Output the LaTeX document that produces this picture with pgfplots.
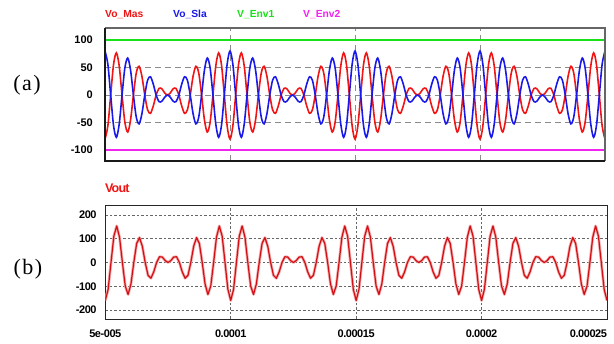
\documentclass[border=0pt]{standalone}
\usepackage{pgfplots}
\pgfplotsset{compat=1.18}
\usepackage{pgfplotstable}
\usepackage{fontspec}
\setmainfont{Liberation Serif}
\setsansfont{Liberation Sans}
\newfontfamily\tightsans[LetterSpace=-4]{Liberation Sans}
\newfontfamily\tightersans[LetterSpace=-7]{Liberation Sans}
\definecolor{cred}{RGB}{240,20,20}
\definecolor{cblue}{RGB}{25,25,235}
\definecolor{cgreen}{RGB}{25,225,25}
\definecolor{cmag}{RGB}{240,35,240}
\definecolor{vred}{RGB}{210,15,20}
\definecolor{vhalo}{RGB}{245,170,170}
\pgfplotstableread{
t mas sla out
50.000 -80.0 80.0 -160.0
51.136 -56.4 56.4 -112.8
52.273 0 0 0
53.409 55.3 -55.3 110.6
54.545 76.8 -76.8 153.6
55.682 53.0 -53.0 106.0
56.818 0 0 0
57.955 -49.6 49.6 -99.2
59.091 -67.3 67.3 -134.6
60.227 -45.3 45.3 -90.6
61.364 0 0 0
62.500 40.0 -40.0 80.0
63.636 52.4 -52.4 104.8
64.773 33.9 -33.9 67.8
65.909 0 0 0
67.045 -27.1 27.1 -54.2
68.182 -33.2 33.2 -66.4
69.318 -19.8 19.8 -39.6
70.455 0 0 0
71.591 12.0 -12.0 24.0
72.727 11.4 -11.4 22.8
73.864 4.0 -4.0 8.0
75.000 0 0 0
76.136 4.0 -4.0 8.0
77.273 11.4 -11.4 22.8
78.409 12.0 -12.0 24.0
79.545 0 0 0
80.682 -19.8 19.8 -39.6
81.818 -33.2 33.2 -66.4
82.955 -27.1 27.1 -54.2
84.091 0 0 0
85.227 33.9 -33.9 67.8
86.364 52.4 -52.4 104.8
87.500 40.0 -40.0 80.0
88.636 0 0 0
89.773 -45.3 45.3 -90.6
90.909 -67.3 67.3 -134.6
92.045 -49.6 49.6 -99.2
93.182 0 0 0
94.318 53.0 -53.0 106.0
95.455 76.8 -76.8 153.6
96.591 55.3 -55.3 110.6
97.727 0 0 0
98.864 -56.4 56.4 -112.8
100.000 -80.0 80.0 -160.0
101.136 -56.4 56.4 -112.8
102.273 0 0 0
103.409 55.3 -55.3 110.6
104.545 76.8 -76.8 153.6
105.682 53.0 -53.0 106.0
106.818 0 0 0
107.955 -49.6 49.6 -99.2
109.091 -67.3 67.3 -134.6
110.227 -45.3 45.3 -90.6
111.364 0 0 0
112.500 40.0 -40.0 80.0
113.636 52.4 -52.4 104.8
114.773 33.9 -33.9 67.8
115.909 0 0 0
117.045 -27.1 27.1 -54.2
118.182 -33.2 33.2 -66.4
119.318 -19.8 19.8 -39.6
120.455 0 0 0
121.591 12.0 -12.0 24.0
122.727 11.4 -11.4 22.8
123.864 4.0 -4.0 8.0
125.000 0 0 0
126.136 4.0 -4.0 8.0
127.273 11.4 -11.4 22.8
128.409 12.0 -12.0 24.0
129.545 0 0 0
130.682 -19.8 19.8 -39.6
131.818 -33.2 33.2 -66.4
132.955 -27.1 27.1 -54.2
134.091 0 0 0
135.227 33.9 -33.9 67.8
136.364 52.4 -52.4 104.8
137.500 40.0 -40.0 80.0
138.636 0 0 0
139.773 -45.3 45.3 -90.6
140.909 -67.3 67.3 -134.6
142.045 -49.6 49.6 -99.2
143.182 0 0 0
144.318 53.0 -53.0 106.0
145.455 76.8 -76.8 153.6
146.591 55.3 -55.3 110.6
147.727 0 0 0
148.864 -56.4 56.4 -112.8
150.000 -80.0 80.0 -160.0
151.136 -56.4 56.4 -112.8
152.273 0 0 0
153.409 55.3 -55.3 110.6
154.545 76.8 -76.8 153.6
155.682 53.0 -53.0 106.0
156.818 0 0 0
157.955 -49.6 49.6 -99.2
159.091 -67.3 67.3 -134.6
160.227 -45.3 45.3 -90.6
161.364 0 0 0
162.500 40.0 -40.0 80.0
163.636 52.4 -52.4 104.8
164.773 33.9 -33.9 67.8
165.909 0 0 0
167.045 -27.1 27.1 -54.2
168.182 -33.2 33.2 -66.4
169.318 -19.8 19.8 -39.6
170.455 0 0 0
171.591 12.0 -12.0 24.0
172.727 11.4 -11.4 22.8
173.864 4.0 -4.0 8.0
175.000 0 0 0
176.136 4.0 -4.0 8.0
177.273 11.4 -11.4 22.8
178.409 12.0 -12.0 24.0
179.545 0 0 0
180.682 -19.8 19.8 -39.6
181.818 -33.2 33.2 -66.4
182.955 -27.1 27.1 -54.2
184.091 0 0 0
185.227 33.9 -33.9 67.8
186.364 52.4 -52.4 104.8
187.500 40.0 -40.0 80.0
188.636 0 0 0
189.773 -45.3 45.3 -90.6
190.909 -67.3 67.3 -134.6
192.045 -49.6 49.6 -99.2
193.182 0 0 0
194.318 53.0 -53.0 106.0
195.455 76.8 -76.8 153.6
196.591 55.3 -55.3 110.6
197.727 0 0 0
198.864 -56.4 56.4 -112.8
200.000 -80.0 80.0 -160.0
201.136 -56.4 56.4 -112.8
202.273 0 0 0
203.409 55.3 -55.3 110.6
204.545 76.8 -76.8 153.6
205.682 53.0 -53.0 106.0
206.818 0 0 0
207.955 -49.6 49.6 -99.2
209.091 -67.3 67.3 -134.6
210.227 -45.3 45.3 -90.6
211.364 0 0 0
212.500 40.0 -40.0 80.0
213.636 52.4 -52.4 104.8
214.773 33.9 -33.9 67.8
215.909 0 0 0
217.045 -27.1 27.1 -54.2
218.182 -33.2 33.2 -66.4
219.318 -19.8 19.8 -39.6
220.455 0 0 0
221.591 12.0 -12.0 24.0
222.727 11.4 -11.4 22.8
223.864 4.0 -4.0 8.0
225.000 0 0 0
226.136 4.0 -4.0 8.0
227.273 11.4 -11.4 22.8
228.409 12.0 -12.0 24.0
229.545 0 0 0
230.682 -19.8 19.8 -39.6
231.818 -33.2 33.2 -66.4
232.955 -27.1 27.1 -54.2
234.091 0 0 0
235.227 33.9 -33.9 67.8
236.364 52.4 -52.4 104.8
237.500 40.0 -40.0 80.0
238.636 0 0 0
239.773 -45.3 45.3 -90.6
240.909 -67.3 67.3 -134.6
242.045 -49.6 49.6 -99.2
243.182 0 0 0
244.318 53.0 -53.0 106.0
245.455 76.8 -76.8 153.6
246.591 55.3 -55.3 110.6
247.727 0 0 0
248.864 -56.4 56.4 -112.8
250.000 -80.0 80.0 -160.0
}\wave
\begin{document}
\begin{tikzpicture}[x=1pt,y=1pt]
\path[use as bounding box] (0pt,0pt) rectangle (614pt,344pt);
% ---------- top panel (a)
\begin{axis}[
  at={(105pt,183pt)}, anchor=south west, scale only axis,
  width=500pt, height=133pt,
  xmin=50, xmax=250, ymin=-120, ymax=122,
  xtick={100,150,200}, xticklabels={},
  ytick={-100,-50,0,50,100},
  axis line style={draw=none}, major tick length=0pt,
  grid=major,
  major grid style={draw=black!45, dash pattern=on 6pt off 4pt, line width=0.9pt},
  /pgf/number format/assume math mode=true,
  yticklabel style={font=\sffamily\bfseries\fontsize{11}{11}\selectfont, inner sep=0pt, anchor=east, xshift=-12pt},
]
\addplot[cred, line width=1.6pt, smooth, tension=0.5] table[x=t, y=mas] {\wave};
\addplot[cblue, line width=1.6pt, smooth, tension=0.5] table[x=t, y=sla] {\wave};
\addplot[cgreen, line width=1.8pt] coordinates {(50,100) (250,100)};
\addplot[cmag, line width=1.8pt] coordinates {(50,-100) (250,-100)};
\end{axis}
\draw[black!60, line width=1.2pt] (105pt,316pt) -- (605pt,316pt) -- (605pt,183pt);
\draw[black!90, line width=1.2pt] (105pt,316pt) -- (105pt,183pt) -- (605pt,183pt);
\node[anchor=base west, inner sep=0, text=cred, font=\sffamily\bfseries\fontsize{10.3}{10}\selectfont] at (105pt,326.5pt) {Vo\_Mas};
\node[anchor=base west, inner sep=0, text=cblue, font=\sffamily\bfseries\fontsize{10.3}{10}\selectfont] at (173pt,326.5pt) {Vo\_Sla};
\node[anchor=base west, inner sep=0, text=cgreen, font=\sffamily\bfseries\fontsize{10.3}{10}\selectfont] at (237pt,326.5pt) {V\_Env1};
\node[anchor=base west, inner sep=0, text=cmag, font=\sffamily\bfseries\fontsize{10.3}{10}\selectfont] at (303pt,326.5pt) {V\_Env2};
\node[inner sep=0, font=\fontsize{22}{22}\selectfont] at (27pt,258.5pt) {(\kern1.5pt a\kern1.5pt)};
% ---------- bottom panel (b)
\begin{axis}[
  at={(105.3pt,25pt)}, anchor=south west, scale only axis,
  width=501.7pt, height=114pt,
  xmin=50, xmax=250, ymin=-238, ymax=242,
  xtick={50,100,150,200,250},
  xticklabels={5e-005,0.0001,0.00015,0.0002,\makebox[0pt][r]{0.00025}},
  ytick={-200,-100,0,100,200},
  axis line style={draw=black!85, line width=0.8pt}, major tick length=0pt,
  grid=major,
  major grid style={draw=black!60, dash pattern=on 2.5pt off 2pt, line width=0.5pt},
  /pgf/number format/assume math mode=true,
  yticklabel style={font=\tightsans\bfseries\fontsize{11}{11}\selectfont, inner sep=0pt, anchor=east, xshift=-8.5pt},
  xticklabel style={font=\tightsans\bfseries\fontsize{11}{11}\selectfont, inner sep=0pt, anchor=north, yshift=-11pt},
]
\addplot[vhalo, line width=2.8pt, line join=round] table[x=t, y=out] {\wave};
\addplot[vred, line width=1.2pt, line join=round] table[x=t, y=out] {\wave};
\end{axis}
\node[anchor=base west, inner sep=0, text=cred, font=\tightersans\bfseries\fontsize{12.5}{12}\selectfont] at (105pt,151pt) {Vout};
\node[inner sep=0, font=\fontsize{22}{22}\selectfont] at (28pt,74.5pt) {(\kern1.5pt b\kern1.5pt)};
\end{tikzpicture}
\end{document}
